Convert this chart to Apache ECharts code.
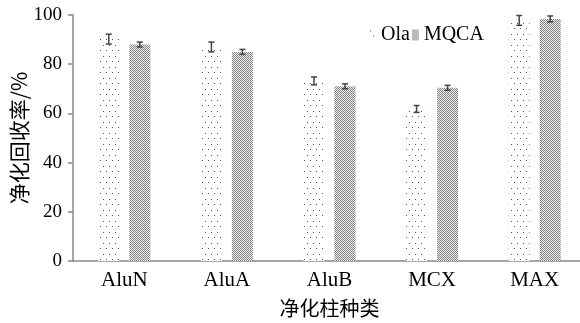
<!DOCTYPE html>
<html><head><meta charset="utf-8">
<script src="https://cdn.jsdelivr.net/npm/echarts@6/dist/echarts.min.js"></script>
<style>html,body{margin:0;padding:0;background:#fff}#c{width:580px;height:323px}</style>
</head><body><div id="c"></div>
<script>
const categories = ['AluN','AluA','AluB','MCX','MAX'];
const olaValues = [90.2, 87.0, 73.2, 61.8, 97.8];
const olaErrors = [2.0, 2.0, 1.6, 1.4, 2.0];
const mqcaValues = [88.0, 85.0, 71.0, 70.4, 98.4];
const mqcaErrors = [1.0, 1.0, 1.0, 1.0, 1.2];
const yTicks = [0, 20, 40, 60, 80, 100];

function makePattern(type) {
  const c = document.createElement('canvas');
  const ctx = c.getContext('2d');
  if (type === 'sparse') {
    c.width = 6; c.height = 11;
    ctx.fillStyle = '#fff'; ctx.fillRect(0,0,6,11);
    ctx.fillStyle = '#555';
    ctx.fillRect(1,1,1,1);
    ctx.fillRect(4,6,1,1);
  } else {
    c.width = 2; c.height = 2;
    ctx.fillStyle = '#f2f2f2'; ctx.fillRect(0,0,2,2);
    ctx.fillStyle = '#808080';
    ctx.fillRect(0,0,1,1);
    ctx.fillRect(1,1,1,1);
  }
  return {image: c, repeat: 'repeat'};
}
const olaPat = makePattern('sparse');
const mqcaPat = makePattern('dense');

const BAR_W = 21, BAR_GAP = 10;
function errSeries(vals, errs, side) {
  return {
    type: 'custom', z: 10, silent: true,
    data: vals.map((v,i)=>[i, v, errs[i]]),
    renderItem: function(params, api) {
      const i = api.value(0), v = api.value(1), e = api.value(2);
      const off = side * (BAR_W + BAR_GAP) / 2;
      const top = api.coord([i, v + e]);
      const bot = api.coord([i, v - e]);
      const x = top[0] + off, hw = 3;
      const st = {stroke: '#444', lineWidth: 1.5};
      return {type: 'group', children: [
        {type:'line', shape:{x1:x, y1:top[1], x2:x, y2:bot[1]}, style: st},
        {type:'line', shape:{x1:x-hw, y1:top[1], x2:x+hw, y2:top[1]}, style: st},
        {type:'line', shape:{x1:x-hw, y1:bot[1], x2:x+hw, y2:bot[1]}, style: st}
      ]};
    }
  };
}

const chart = echarts.init(document.getElementById('c'), null, {renderer: 'canvas'});
chart.setOption({
  animation: false,
  backgroundColor: '#fff',
  grid: {left: 73, right: -6, top: 15, bottom: 62, outerBoundsMode: 'none', containLabel: false},
  legend: {
    left: 364, top: 20, itemWidth: 7, itemHeight: 11, itemGap: 2,
    textStyle: {fontFamily: 'Liberation Serif', fontSize: 20, color: '#000'},
    data: [{name:'Ola', icon:'rect'}, {name:'MQCA', icon:'rect'}]
  },
  xAxis: {
    type: 'category', data: categories,
    name: '净化柱种类', nameLocation: 'middle', nameGap: 37, nameMoveOverlap: false,
    nameTextStyle: {fontFamily: 'Noto Sans CJK SC', fontSize: 20, color: '#000'},
    axisLine: {lineStyle: {color: '#888', width: 1.5}},
    axisTick: {show: false},
    axisLabel: {fontFamily: 'Liberation Serif', fontSize: 21, color: '#000', margin: 9}
  },
  yAxis: {
    type: 'value', min: 0, max: 100, interval: 20,
    name: '净化回收率/%', nameLocation: 'middle', nameGap: 43, nameMoveOverlap: false,
    nameTextStyle: {fontFamily: 'Noto Sans CJK SC', fontSize: 21, color: '#000'},
    axisLine: {show: true, lineStyle: {color: '#888', width: 1.5}},
    axisTick: {show: true, length: 5, lineStyle: {color: '#888', width: 1.5}},
    splitLine: {show: false},
    axisLabel: {fontFamily: 'Liberation Serif', fontSize: 19, color: '#000', margin: 11,
      formatter: v => yTicks.includes(v) ? String(v) : ''}
  },
  series: [
    {name: 'Ola', type: 'bar', data: olaValues, barWidth: BAR_W, barGap: (BAR_GAP/BAR_W*100)+'%',
     itemStyle: {color: olaPat}},
    {name: 'MQCA', type: 'bar', data: mqcaValues, barWidth: BAR_W,
     itemStyle: {color: mqcaPat}},
    errSeries(olaValues, olaErrors, -1),
    errSeries(mqcaValues, mqcaErrors, 1)
  ]
});
</script></body></html>
